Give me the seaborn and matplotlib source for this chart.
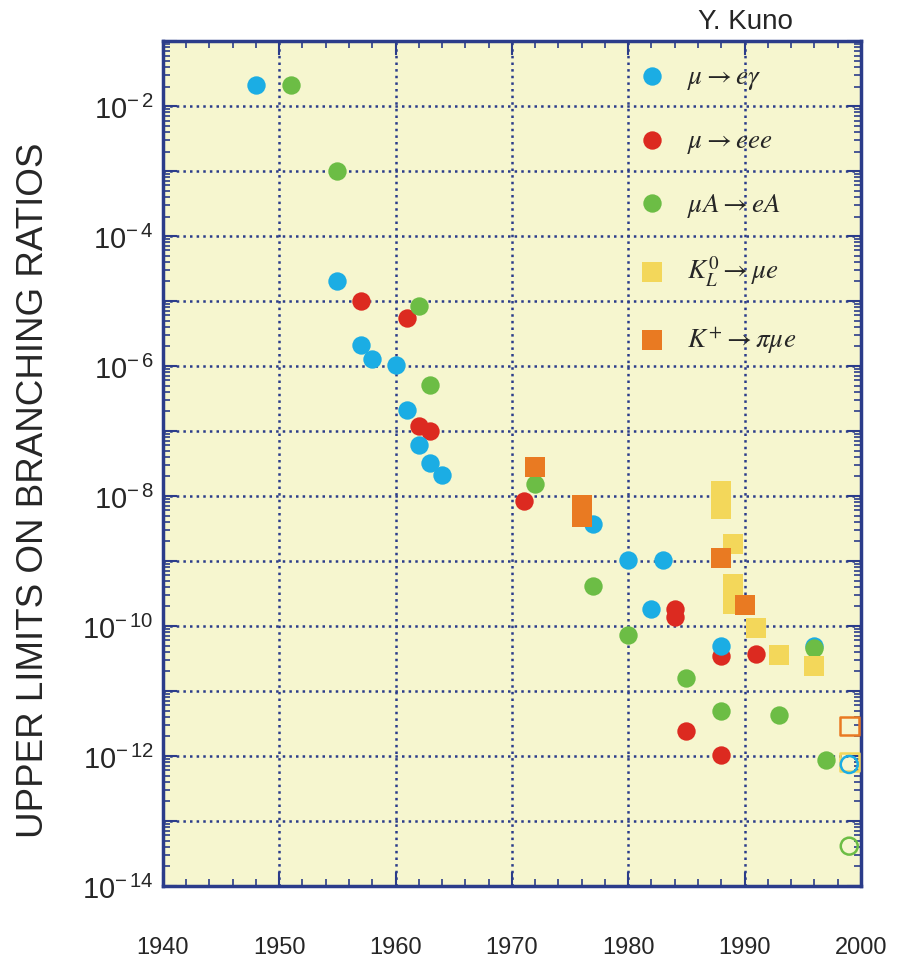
import numpy as np
import pandas as pd
import matplotlib
matplotlib.use("Agg")
import matplotlib.pyplot as plt
import seaborn as sns
from matplotlib.ticker import LogLocator, MultipleLocator, FuncFormatter, NullFormatter

# ---------- data ----------
meg_year = [1948, 1955, 1957, 1958, 1960, 1961, 1962, 1963, 1964, 1977, 1980, 1983, 1982, 1988, 1996]
meg_ratio = [2.1e-2, 2e-5, 2.1e-6, 1.3e-6, 1.05e-6, 2.1e-7, 6.2e-8, 3.2e-8, 2.1e-8,
             3.7e-9, 1.05e-9, 1.05e-9, 1.8e-10, 5e-11, 5e-11]

meee_year = [1957, 1961, 1962, 1963, 1971, 1984, 1984, 1988, 1991, 1985, 1988]
meee_ratio = [1e-5, 5.4e-6, 1.2e-7, 1.0e-7, 8.3e-9, 1.85e-10, 1.4e-10, 3.5e-11, 3.7e-11, 2.45e-12, 1.05e-12]

maea_year = [1951, 1955, 1962, 1963, 1972, 1977, 1980, 1985, 1988, 1993, 1996, 1997]
maea_ratio = [2.1e-2, 1e-3, 8.5e-6, 5.1e-7, 1.55e-8, 4.2e-10, 7.2e-11, 1.6e-11, 5e-12, 4.3e-12, 4.6e-11, 8.6e-13]

kl_year = [1988, 1988, 1989, 1989, 1989, 1991, 1993, 1996]
kl_ratio = [1.2e-8, 6.4e-9, 1.8e-9, 4.4e-10, 2.2e-10, 9.3e-11, 3.6e-11, 2.4e-11]

kpi_year = [1972, 1976, 1976, 1988, 1990]
kpi_ratio = [2.8e-8, 7.2e-9, 4.8e-9, 1.1e-9, 2.1e-10]

# projected sensitivities (open symbols)
proj_process = ["KL", "Kpi", "meg", "maea"]
proj_year = [1999, 1999, 1999, 1999]
proj_ratio = [8.1e-13, 2.9e-12, 7.4e-13, 4.1e-14]

LABELS = {
    "meee": r"$\mu \rightarrow eee$",
    "meg": r"$\mu \rightarrow e\gamma$",
    "maea": r"$\mu A \rightarrow eA$",
    "KL": r"$K_L^0 \rightarrow \mu e$",
    "Kpi": r"$K^{+} \rightarrow \pi\mu e$",
}
COLORS = {"meg": "#1BADE4", "meee": "#DC2A20", "maea": "#6CBD45", "KL": "#F3D75A", "Kpi": "#E97A22"}
MARKERS = {"meg": "o", "meee": "o", "maea": "o", "KL": "s", "Kpi": "s"}
SIZES = {"o": 175, "s": 210}
LEGEND_ORDER = ["meg", "meee", "maea", "KL", "Kpi"]
DRAW_ORDER = ["meee", "meg", "maea", "KL", "Kpi"]

NAVY = "#2B3C8A"
BG = "#F6F6CF"

frames = []
for key, yr, rt in [("meg", meg_year, meg_ratio), ("meee", meee_year, meee_ratio),
                    ("maea", maea_year, maea_ratio), ("KL", kl_year, kl_ratio),
                    ("Kpi", kpi_year, kpi_ratio)]:
    frames.append(pd.DataFrame({"year": yr, "ratio": rt, "process": key}))
df = pd.concat(frames, ignore_index=True)
proj = pd.DataFrame({"year": proj_year, "ratio": proj_ratio, "process": proj_process})

sns.set_theme(style="ticks")
plt.rcParams["font.family"] = ["Liberation Sans", "DejaVu Sans"]
plt.rcParams["mathtext.fontset"] = "stix"

fig = plt.figure(figsize=(9.1, 9.7), dpi=100)
ax = fig.add_axes([0.179, 0.0856, 0.767, 0.871])
ax.set_facecolor(BG)

handles = {}
for key in DRAW_ORDER:
    sub = df[df.process == key]
    m = MARKERS[key]
    sns.scatterplot(data=sub, x="year", y="ratio", ax=ax, color=COLORS[key], marker=m,
                    s=SIZES[m], linewidth=0, legend=False, zorder=3)
    handles[key] = ax.scatter([], [], color=COLORS[key], marker=m, s=SIZES[m], linewidth=0)

for _, row in proj.iterrows():
    m = MARKERS[row.process]
    ax.scatter(row.year, row.ratio, marker=m, s=SIZES[m] * 0.85, facecolors="none",
               edgecolors=COLORS[row.process], linewidths=1.8, zorder=4)

ax.set_yscale("log")
ax.set_xlim(1940, 2000)
ax.set_ylim(1e-14, 1e-1)

ax.xaxis.set_major_locator(MultipleLocator(10))
ax.xaxis.set_minor_locator(MultipleLocator(2))
ax.yaxis.set_major_locator(LogLocator(base=10, numticks=30))
ax.yaxis.set_minor_locator(LogLocator(base=10, subs=np.arange(2, 10), numticks=30))
ax.yaxis.set_minor_formatter(NullFormatter())


def fmt_y(v, pos):
    e = int(round(np.log10(v)))
    if e % 2 != 0 or e > -2:
        return ""
    return r"$\mathregular{10^{-\,%d}}$" % (-e)


ax.yaxis.set_major_formatter(FuncFormatter(fmt_y))

ax.grid(True, which="major", color=NAVY, linestyle=":", linewidth=1.8)
ax.set_axisbelow(True)
for sp in ax.spines.values():
    sp.set_color(NAVY)
    sp.set_linewidth(2.5)

ax.tick_params(which="both", direction="in", top=True, right=True, color=NAVY)
ax.tick_params(which="major", length=10, width=1.5)
ax.tick_params(which="minor", length=5, width=1.2)
ax.tick_params(axis="y", which="major", labelsize=21, pad=7)
ax.tick_params(axis="x", which="major", labelsize=17, pad=36)

ax.set_xlabel("")
ax.set_ylabel("UPPER LIMITS ON BRANCHING RATIOS", fontsize=26.5)
ax.yaxis.set_label_coords(-0.16, 0.47)

leg = ax.legend([handles[k] for k in LEGEND_ORDER], [LABELS[k] for k in LEGEND_ORDER],
                loc="upper left", bbox_to_anchor=(0.681, 0.974), frameon=False,
                fontsize=19.5, borderpad=0, borderaxespad=0, handlelength=1.0,
                handletextpad=0.8, labelspacing=1.32)

fig.text(0.819, 0.977, "Y. Kuno", ha="center", va="center", fontsize=20)

fig.savefig("out.png", dpi=100, facecolor="white")
